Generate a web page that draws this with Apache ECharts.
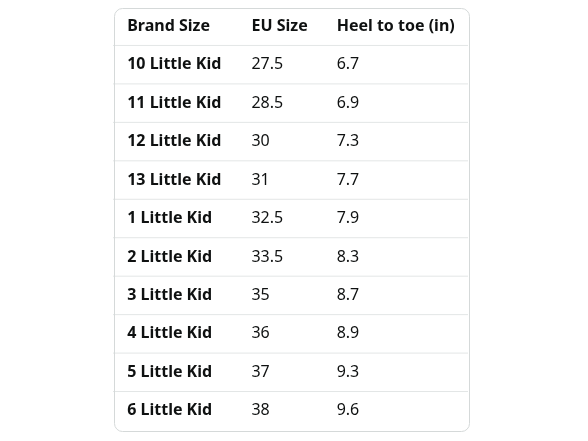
<!DOCTYPE html>
<html><head><meta charset="utf-8">
<script src="https://cdn.jsdelivr.net/npm/echarts@6/dist/echarts.min.js"></script>
<style>html,body{margin:0;padding:0;background:#fff}#c{width:588px;height:441px}</style>
</head><body><div id="c"></div>
<script>
const headers = ['Brand Size', 'EU Size', 'Heel to toe (in)'];
const brandSizes = ['10 Little Kid','11 Little Kid','12 Little Kid','13 Little Kid','1 Little Kid','2 Little Kid','3 Little Kid','4 Little Kid','5 Little Kid','6 Little Kid'];
const euSizes = ['27.5','28.5','30','31','32.5','33.5','35','36','37','38'];
const heelToe = ['6.7','6.9','7.3','7.7','7.9','8.3','8.7','8.9','9.3','9.6'];

const rows = [headers].concat(brandSizes.map((b,i)=>[b, euSizes[i], heelToe[i]]));
const colX = [0.04, 0.39, 0.63];
const chart = echarts.init(document.getElementById('c'));
chart.setOption({
  animation:false,
  grid:{left:113, right:120, top:7, bottom:11},
  xAxis:{type:'value', min:0, max:1, show:false},
  yAxis:{type:'category', inverse:true, data:rows.map((r,i)=>i), show:false},
  graphic:[{type:'rect', left:112, top:6, shape:{width:355, height:423, r:8}, style:{fill:'none', stroke:'#d5d9d9', lineWidth:1}, z:10}],
  series:[{
    type:'custom',
    data:rows.map((r,i)=>[i]),
    renderItem:function(params, api){
      const i = api.value(0);
      const r = rows[i];
      const c = api.coord([0, i]);
      const h = api.size([0,1])[1];
      const x0 = params.coordSys.x, w = params.coordSys.width;
      const children = [];
      if (i < rows.length-1) children.push({type:'line', shape:{x1:x0, y1:c[1]+h/2, x2:x0+w, y2:c[1]+h/2}, style:{stroke:'#e3e6e6', lineWidth:1}});
      r.forEach((t,j)=>{
        const p = api.coord([colX[j], i]);
        children.push({type:'text', x:p[0], y:p[1], style:{text:t, fill:'#0f1111', font:((i===0||j===0)?'bold ':'')+'16px "Noto Sans", sans-serif', textAlign:'left', textVerticalAlign:'middle'}});
      });
      return {type:'group', children};
    }
  }]
});
</script></body></html>
